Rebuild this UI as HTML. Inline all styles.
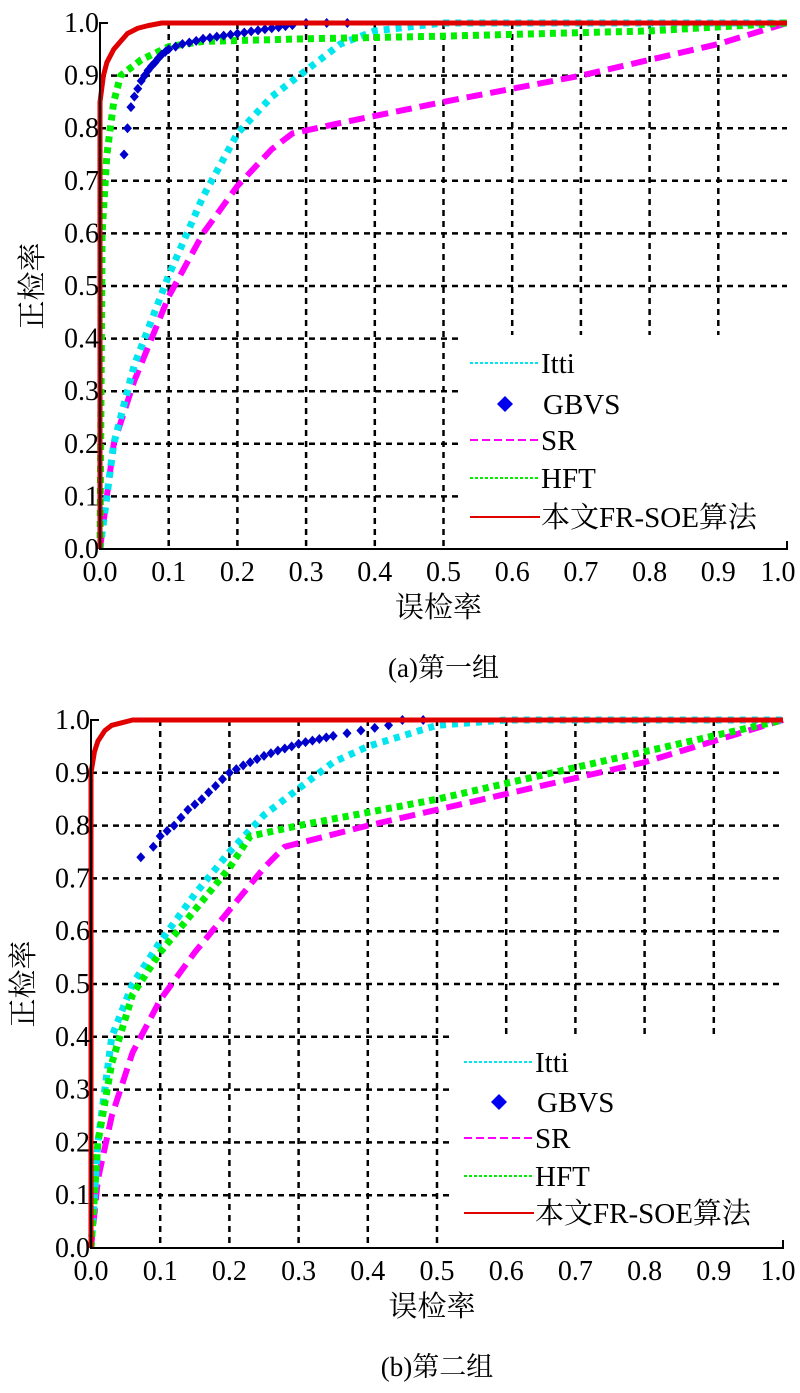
<!DOCTYPE html>
<html><head><meta charset="utf-8">
<style>
html,body{margin:0;padding:0;background:#fff;}
svg{display:block;}
text{font-family:"Liberation Serif","Noto Serif CJK SC",serif;fill:#000;}
</style></head>
<body>
<svg id="fig" width="800" height="1393" viewBox="0 0 800 1393" xmlns="http://www.w3.org/2000/svg"></svg>
<script>
// ---- data: chart (a) ----
const tickLabels = ["0.0","0.1","0.2","0.3","0.4","0.5","0.6","0.7","0.8","0.9","1.0"];
const seriesNames = ["Itti","GBVS","SR","HFT","本文FR-SOE算法"];
const a_itti_x = [0,0.02,0.05,0.1,0.15,0.2,0.25,0.3,0.35,0.4,0.5,1];
const a_itti_y = [0,0.2,0.35,0.52,0.67,0.79,0.86,0.91,0.96,0.985,1,1];
const a_gbvs_x = [0.035,0.04,0.045,0.05,0.055,0.06,0.065,0.07,0.075,0.08,0.085,0.09,0.095,0.1,0.11,0.12,0.13,0.14,0.15,0.16,0.17,0.18,0.19,0.2,0.21,0.22,0.23,0.24,0.25,0.26,0.27,0.28,0.3,0.33,0.36];
const a_gbvs_y = [0.75,0.80,0.84,0.86,0.875,0.89,0.90,0.91,0.918,0.925,0.933,0.94,0.945,0.95,0.955,0.96,0.963,0.966,0.97,0.972,0.974,0.976,0.978,0.98,0.982,0.984,0.986,0.988,0.99,0.992,0.994,0.996,1,1,1];
const a_sr_x = [0,0.02,0.05,0.1,0.15,0.2,0.25,0.28,0.35,0.5,0.7,0.9,1];
const a_sr_y = [0,0.2,0.32,0.48,0.6,0.69,0.76,0.79,0.81,0.85,0.9,0.96,1];
const a_hft_x = [0,0.003,0.01,0.02,0.03,0.06,0.1,0.15,0.3,0.5,0.8,1];
const a_hft_y = [0,0.6,0.75,0.85,0.9,0.93,0.955,0.965,0.97,0.975,0.985,1];
const a_ours_x = [0,0,0.005,0.01,0.02,0.03,0.04,0.055,0.07,0.09,1];
const a_ours_y = [0,0.85,0.9,0.925,0.95,0.965,0.98,0.99,0.995,1,1];
// ---- data: chart (b) ----
const b_itti_x = [0,0.01,0.03,0.06,0.1,0.15,0.2,0.25,0.3,0.35,0.4,0.5,0.6,1];
const b_itti_y = [0,0.2,0.4,0.5,0.58,0.67,0.75,0.82,0.87,0.92,0.95,0.99,1,1];
const b_gbvs_x = [0.072,0.09,0.1,0.11,0.12,0.13,0.14,0.15,0.16,0.17,0.18,0.19,0.2,0.21,0.22,0.23,0.24,0.25,0.26,0.27,0.28,0.29,0.3,0.31,0.32,0.33,0.34,0.35,0.37,0.39,0.41,0.43,0.45,0.48];
const b_gbvs_y = [0.74,0.76,0.78,0.79,0.80,0.815,0.83,0.84,0.85,0.863,0.875,0.888,0.9,0.907,0.914,0.92,0.926,0.932,0.937,0.942,0.946,0.95,0.955,0.958,0.961,0.964,0.967,0.97,0.975,0.98,0.985,0.99,1,1];
const b_sr_x = [0,0.01,0.03,0.06,0.1,0.15,0.2,0.25,0.28,0.4,0.6,0.8,1];
const b_sr_y = [0,0.13,0.25,0.37,0.47,0.56,0.64,0.72,0.76,0.8,0.86,0.92,1];
const b_hft_x = [0,0.01,0.03,0.06,0.1,0.15,0.2,0.23,0.3,0.5,0.7,0.9,1];
const b_hft_y = [0,0.2,0.35,0.48,0.56,0.64,0.72,0.78,0.8,0.85,0.91,0.97,1];
const b_ours_x = [0,0,0.005,0.01,0.02,0.03,0.045,0.06,1];
const b_ours_y = [0,0.9,0.94,0.96,0.98,0.99,0.995,1,1];

const NS="http://www.w3.org/2000/svg";
const svg=document.getElementById('fig');
function mk(tag,attrs,parent){const e=document.createElementNS(NS,tag);for(const k in attrs)e.setAttribute(k,attrs[k]);(parent||svg).appendChild(e);return e;}

function chart(cfg){
  const g=mk('g',{});
  
  
  const X=v=>cfg.x0+v*(cfg.x1-cfg.x0);
  const Y=v=>cfg.y0-v*(cfg.y0-cfg.y1);
  for(let i=1;i<=9;i++){
    const v=i/10;
    const vx=mk('line',{x1:X(v),x2:X(v),y1:Y(1),y2:(X(v)>cfg.legX+20?cfg.legTop:Y(0)),stroke:'#000','stroke-width':2.5,'stroke-dasharray':'6,5'},g);
    
    
    const hy=mk('line',{x1:X(0),x2:(Y(v)>cfg.legTop?cfg.legX:X(1)),y1:Y(v),y2:Y(v),stroke:'#000','stroke-width':2.5,'stroke-dasharray':'6,5'},g);
    
    
  }
  const line=(xs,ys,color,w,dash,nm)=>{
    const p=mk('polyline',{points:xs.map((x,i)=>X(x)+','+Y(ys[i])).join(' '),fill:'none',stroke:color,'stroke-width':w,'stroke-dasharray':dash,'stroke-linejoin':'round'},g);
    
    
  };
  line(cfg.sr[0],cfg.sr[1],'#ff00ff',6,'16,8','sr-curve');
  line(cfg.itti[0],cfg.itti[1],'#00e5ee',7,'6,6','itti-curve');
  line(cfg.hft[0],cfg.hft[1],'#00ee00',7,'6,5','hft-curve');
  cfg.gbvs[0].forEach((x,i)=>{
    const cx=X(x),cy=Y(cfg.gbvs[1][i]);
    const d=mk('polygon',{points:`${cx},${cy-5} ${cx+4.5},${cy} ${cx},${cy+5} ${cx-4.5},${cy}`,fill:'#0000cc'},g);
    
    
  });
  line(cfg.ours[0],cfg.ours[1],'#e00000',5,'none','ours-curve');
  const ax=mk('path',{d:`M${X(0)+8},${Y(1)} H${X(0)} V${Y(0)} H${X(1)} V${Y(0)-8}`,fill:'none',stroke:'#000','stroke-width':2},g);
  
  
  tickLabels.forEach((t,i)=>{
    const v=i/10;
    const tx=mk('text',{x:Math.min(X(v),778),y:Y(0)+32,'font-size':28,'text-anchor':'middle'},g);tx.textContent=t;
    
    
    const ty=mk('text',{x:X(0)-1,y:Y(v)+9,'font-size':28,'text-anchor':'end'},g);ty.textContent=t;
    
    
  });
  const yt=mk('text',{x:0,y:0,'font-size':29,transform:`translate(${cfg.x0-58},${(Y(0)+Y(1))/2}) rotate(-90)`,'text-anchor':'middle'},g);
  yt.textContent='正检率';
  
  
  const xt=mk('text',{x:(X(0)+X(1))/2-5,y:Y(0)+68,'font-size':29,'text-anchor':'middle'},g);
  xt.textContent='误检率';
  
  
  const cap=mk('text',{x:(X(0)+X(1))/2,y:Y(0)+128,'font-size':27,'text-anchor':'middle'},g);
  cap.textContent=cfg.caption;
  
  
  const lg=mk('g',{},g);
  
  
  const styles=[['#00e5ee','3,2'],null,['#ff00ff','8,4'],['#00ee00','3,2'],['#e00000','none']];
  seriesNames.forEach((n,i)=>{
    const y=cfg.legY[i];
    const e=mk('g',{},lg);
    
    
    if(styles[i]) mk('line',{x1:cfg.legX+12,x2:cfg.legX+82,y1:y,y2:y,stroke:styles[i][0],'stroke-width':2,'stroke-dasharray':styles[i][1]},e);
    else mk('polygon',{points:`${cfg.legX+47},${y-8} ${cfg.legX+55},${y} ${cfg.legX+47},${y+8} ${cfg.legX+39},${y}`,fill:'#0000ee'},e);
    const t=mk('text',{x:cfg.legX+(i==1?85:83),y:y+10,'font-size':29},e);t.textContent=n;
  });
}
chart({name:'chart-a',x0:100,x1:787,y0:549,y1:23,legX:458,legTop:335,legY:[363,404,440,478,517],caption:'(a)第一组',
  itti:[a_itti_x,a_itti_y],gbvs:[a_gbvs_x,a_gbvs_y],sr:[a_sr_x,a_sr_y],hft:[a_hft_x,a_hft_y],ours:[a_ours_x,a_ours_y]});
chart({name:'chart-b',x0:91,x1:783,y0:1248,y1:720,legX:452,legTop:1035,legY:[1062,1102,1138,1176,1213],caption:'(b)第二组',
  itti:[b_itti_x,b_itti_y],gbvs:[b_gbvs_x,b_gbvs_y],sr:[b_sr_x,b_sr_y],hft:[b_hft_x,b_hft_y],ours:[b_ours_x,b_ours_y]});
</script>
</body></html>
